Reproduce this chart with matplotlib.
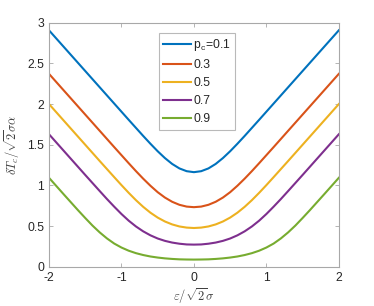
import matplotlib
matplotlib.use("Agg")
import matplotlib.pyplot as plt

# eps / (sqrt2 sigma) from -2 to 2 in steps of 0.1
x = [round(-2.0 + 0.1 * i, 1) for i in range(41)]

# values, one list per p_c (curves are symmetric about 0)
pc01 = [2.906, 2.806, 2.706, 2.606, 2.506, 2.406, 2.306, 2.206, 2.106, 2.006,
        1.906, 1.806, 1.707, 1.608, 1.512, 1.420, 1.336, 1.264, 1.209, 1.175,
        1.163,
        1.175, 1.209, 1.264, 1.336, 1.420, 1.512, 1.608, 1.707, 1.806, 1.906,
        2.006, 2.106, 2.206, 2.306, 2.406, 2.506, 2.606, 2.706, 2.806, 2.906]
pc03 = [2.371, 2.271, 2.171, 2.071, 1.971, 1.871, 1.771, 1.671, 1.571, 1.471,
        1.372, 1.273, 1.176, 1.083, 0.996, 0.917, 0.851, 0.799, 0.762, 0.740,
        0.733,
        0.740, 0.762, 0.799, 0.851, 0.917, 0.996, 1.083, 1.176, 1.273, 1.372,
        1.471, 1.571, 1.671, 1.771, 1.871, 1.971, 2.071, 2.171, 2.271, 2.371]
pc05 = [2.000, 1.900, 1.800, 1.700, 1.600, 1.500, 1.400, 1.300, 1.201, 1.102,
        1.004, 0.909, 0.819, 0.737, 0.665, 0.605, 0.557, 0.521, 0.496, 0.482,
        0.477,
        0.482, 0.496, 0.521, 0.557, 0.605, 0.665, 0.737, 0.819, 0.909, 1.004,
        1.102, 1.201, 1.300, 1.400, 1.500, 1.600, 1.700, 1.800, 1.900, 2.000]
pc07 = [1.629, 1.529, 1.429, 1.329, 1.229, 1.129, 1.030, 0.931, 0.833, 0.739,
        0.649, 0.567, 0.496, 0.436, 0.387, 0.348, 0.319, 0.298, 0.284, 0.275,
        0.273,
        0.275, 0.284, 0.298, 0.319, 0.348, 0.387, 0.436, 0.496, 0.567, 0.649,
        0.739, 0.833, 0.931, 1.030, 1.129, 1.229, 1.329, 1.429, 1.529, 1.629]
pc09 = [1.094, 0.994, 0.894, 0.795, 0.696, 0.600, 0.507, 0.423, 0.349, 0.286,
        0.237, 0.198, 0.168, 0.145, 0.127, 0.114, 0.104, 0.097, 0.092, 0.090,
        0.089,
        0.090, 0.092, 0.097, 0.104, 0.114, 0.127, 0.145, 0.168, 0.198, 0.237,
        0.286, 0.349, 0.423, 0.507, 0.600, 0.696, 0.795, 0.894, 0.994, 1.094]

labels = ["p$_\\mathregular{c}$=0.1", "0.3", "0.5", "0.7", "0.9"]
colors = ["#0072BD", "#D95319", "#EDB120", "#7E2F8E", "#77AC30"]

plt.rcParams["font.family"] = ["Liberation Sans", "DejaVu Sans"]
plt.rcParams["mathtext.fontset"] = "cm"
plt.rcParams["axes.unicode_minus"] = False

fig = plt.figure(figsize=(3.74, 3.06), dpi=100)
ax = fig.add_axes([0.131, 0.128, 0.775, 0.798])

for y, lab, c in zip([pc01, pc03, pc05, pc07, pc09], labels, colors):
    ax.plot(x, y, color=c, lw=1.5, label=lab)

ax.set_xlim(-2, 2)
ax.set_ylim(0, 3)
ax.set_xticks([-2, -1, 0, 1, 2])
ax.set_yticks([0, 0.5, 1, 1.5, 2, 2.5, 3])
ax.set_yticklabels(["0", "0.5", "1", "1.5", "2", "2.5", "3"])
ax.tick_params(direction="in", top=True, right=True, length=3, width=0.6,
               color="#a8a8a8", labelsize=8.7, labelcolor="#262626")
for s in ax.spines.values():
    s.set_color("#a8a8a8")
    s.set_linewidth(0.8)

ax.set_xlabel(r"$\varepsilon/\sqrt{2}\sigma$", fontsize=9, color="#404040", labelpad=2)
ax.set_ylabel(r"$\delta T_c/\sqrt{2}\sigma\alpha$", fontsize=9, color="#404040", labelpad=4)

leg = ax.legend(loc="upper left", bbox_to_anchor=(0.379, 0.958), fontsize=8.7,
                frameon=True, fancybox=False, edgecolor="#a8a8a8", handlelength=2.3,
                handletextpad=0.2, labelspacing=0.5, borderpad=0.35, borderaxespad=0)
leg.get_frame().set_linewidth(0.8)
for t in leg.get_texts():
    t.set_color("#262626")

fig.savefig("out.png", dpi=100)
